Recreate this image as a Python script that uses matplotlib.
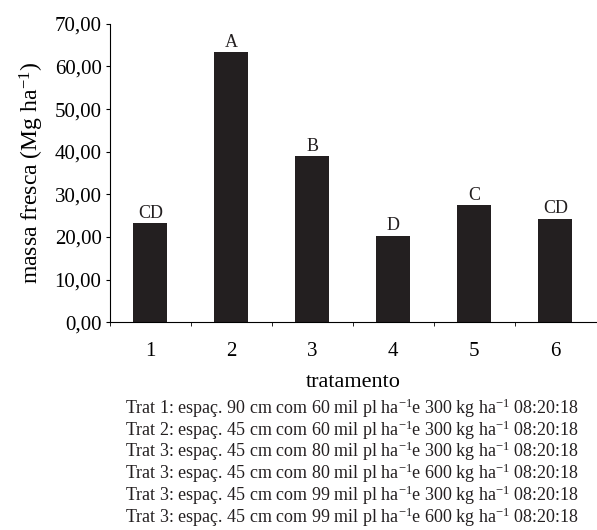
import matplotlib
matplotlib.use('Agg')
import matplotlib.pyplot as plt

# donnees
tratamentos = ['1', '2', '3', '4', '5', '6']
massa_fresca = [23.2, 63.3, 39.0, 20.3, 27.4, 24.3]
letras = ['CD', 'A', 'B', 'D', 'C', 'CD']
yticks = [0, 10, 20, 30, 40, 50, 60, 70]
legenda = [
    'Trat 1: espaç. 90 cm com 60 mil pl ha$^{-1}$e 300 kg ha$^{-1}$ 08:20:18',
    'Trat 2: espaç. 45 cm com 60 mil pl ha$^{-1}$e 300 kg ha$^{-1}$ 08:20:18',
    'Trat 3: espaç. 45 cm com 80 mil pl ha$^{-1}$e 300 kg ha$^{-1}$ 08:20:18',
    'Trat 3: espaç. 45 cm com 80 mil pl ha$^{-1}$e 600 kg ha$^{-1}$ 08:20:18',
    'Trat 3: espaç. 45 cm com 99 mil pl ha$^{-1}$e 300 kg ha$^{-1}$ 08:20:18',
    'Trat 3: espaç. 45 cm com 99 mil pl ha$^{-1}$e 600 kg ha$^{-1}$ 08:20:18',
]

plt.rcParams['font.family'] = ['Liberation Serif', 'DejaVu Serif']
plt.rcParams['mathtext.default'] = 'regular'

fig = plt.figure(figsize=(5.97, 5.30), dpi=100)
ax = fig.add_axes([0.184, 0.392, 0.814, 0.563])

x = list(range(1, len(tratamentos) + 1))
ax.bar(x, massa_fresca, width=0.42, color='#231f20')
for xi, v, l in zip(x, massa_fresca, letras):
    ax.text(xi, v + 0.3, l, ha='center', va='bottom', fontsize=13, color='#231f20')

ax.set_xlim(0.5, 6.5)
ax.set_ylim(0, 70)
ax.set_yticks(yticks)
ax.set_yticklabels(['%d,00' % t for t in yticks], fontsize=15)
ax.set_xticks(x)
ax.set_xticklabels(tratamentos, fontsize=15)
ax.set_xticks([i + 0.5 for i in range(0, 6)], minor=True)
ax.tick_params(axis='x', which='major', length=0, pad=14)
ax.tick_params(axis='x', which='minor', length=3, direction='out')
ax.tick_params(axis='y', length=3, direction='out', pad=3)
ax.spines['top'].set_visible(False)
ax.spines['right'].set_visible(False)
ax.set_xlabel('tratamento', fontsize=16, labelpad=9)
ax.set_ylabel('massa fresca (Mg ha$^{-1}$)', fontsize=17, labelpad=6)

# legenda dos tratamentos abaixo do grafico
for i, linha in enumerate(legenda):
    fig.text(125 / 597, 1 - (408 + i * 21.8) / 530, linha, ha='left', va='center',
             fontsize=13, color='#231f20')

fig.savefig('out.png', dpi=100)
